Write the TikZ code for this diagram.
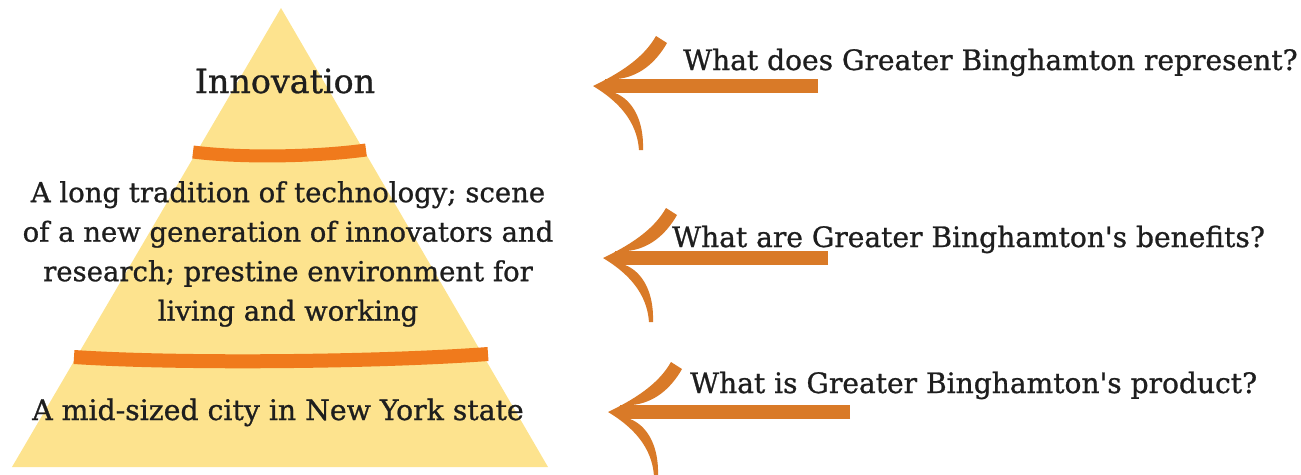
\documentclass[tikz,border=0pt]{standalone}
\usepackage{fontspec}
\setmainfont{DejaVu Serif}[Ligatures=TeXOff, FakeBold=0.9]
\definecolor{pyrfill}{RGB}{253,227,142}
\definecolor{bandcol}{RGB}{240,122,28}
\definecolor{arrcol}{RGB}{217,122,40}
\definecolor{ink}{RGB}{30,30,30}
\begin{document}
\begin{tikzpicture}[x=1pt,y=-1pt,
  lbl/.style={inner sep=0pt, text=ink, font=\fontsize{28.1}{39.5}\selectfont},
  midl/.style={lbl, font=\fontsize{27.5}{39.5}\selectfont},
  lowl/.style={lbl, font=\fontsize{28.3}{39.5}\selectfont},
  bigl/.style={lbl, font=\fontsize{33.3}{40}\selectfont},
  bandline/.style={draw=bandcol, line width=13pt},
  shaftline/.style={draw=arrcol, line width=14pt},
  pics/brushhead/.style={code={
    \fill[arrcol] (0,0) .. controls (25,-12) and (50,-27) .. (63,-50)
      -- (74,-43) .. controls (62,-22) and (45,-9) .. (24,-7)
      -- (22,7) .. controls (40,14) and (51,35) .. (50,64)
      -- (46,64) .. controls (44,35) and (25,15) .. (0,0) -- cycle;
  }}]
\useasboundingbox (0,0) rectangle (1301,474);

% pyramid body
\fill[pyrfill] (281,8) -- (548,467) -- (12,467) -- cycle;

% dividing bands
\draw[bandline] (193,152) .. controls (240,158) and (315,157) .. (366,150);
\draw[bandline, line width=14pt] (74,357) .. controls (180,364) and (380,362) .. (488,354);

% tier labels
\node[bigl, anchor=base] (top) at (285,93) {Innovation};
\node[midl, align=center, anchor=center] (mid) at (288,254)
  {A long tradition of technology; scene\\
   of a new generation of innovators and\\
   research; prestine environment for\\
   living and working};
\node[lowl, anchor=base] (low) at (278,420) {A mid-sized city in New York state};

% questions
\node[lbl, anchor=base west] (q1) at (683,70) {What does Greater Binghamton represent?};
\node[lbl, anchor=base west] (q2) at (672,247) {What are Greater Binghamton's benefits?};
\node[lbl, anchor=base west] (q3) at (690,393) {What is Greater Binghamton's product?};

% brush arrows pointing back at the tiers
\coordinate (h1) at (593,86);  \coordinate (s1) at (818,86);
\coordinate (h2) at (603,258); \coordinate (s2) at (828,258);
\coordinate (h3) at (608,412); \coordinate (s3) at (850,412);
\foreach \i in {1,2,3}{
  \draw[shaftline] (s\i) -- ([xshift=12pt]h\i);
  \pic at (h\i) {brushhead};
}
\end{tikzpicture}
\end{document}
